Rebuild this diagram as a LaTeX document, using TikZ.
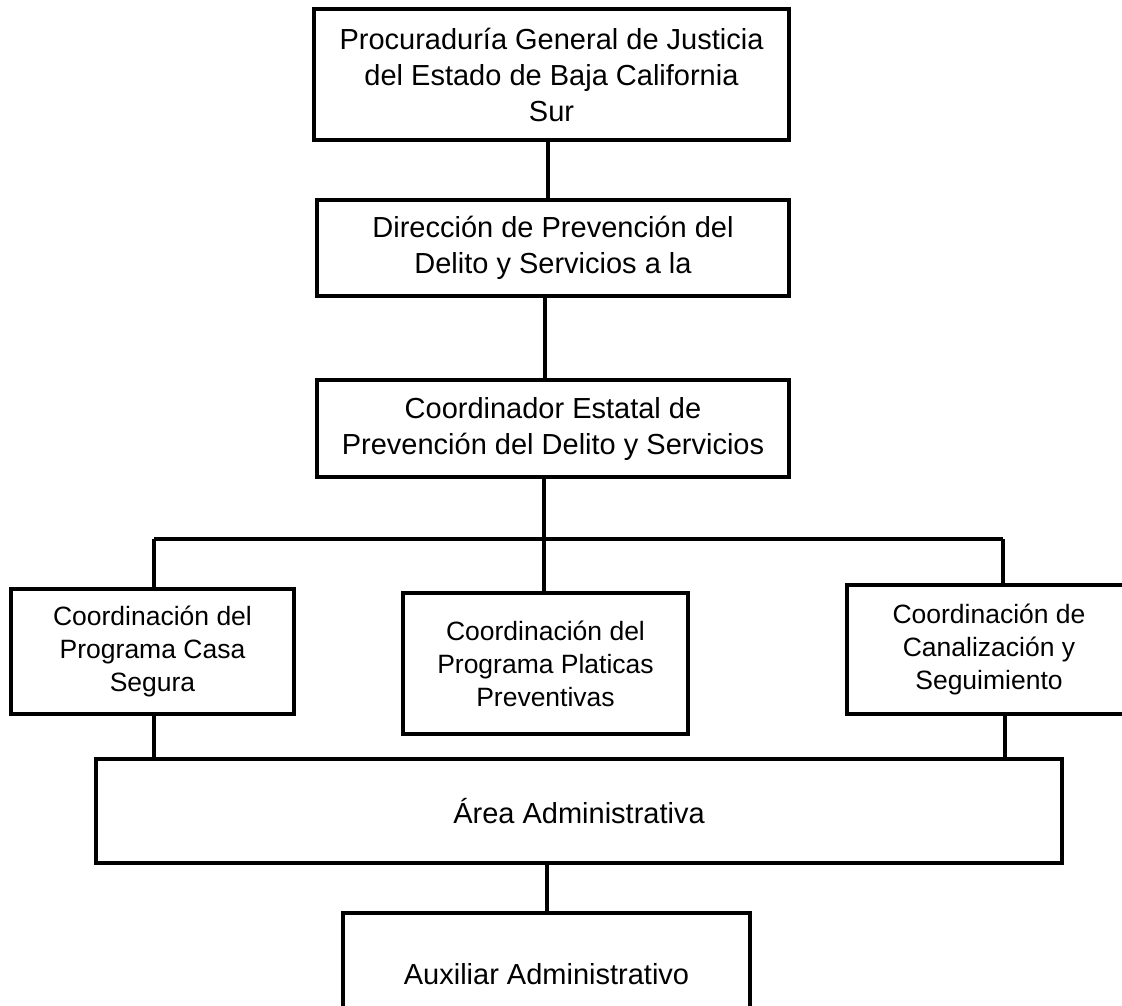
\documentclass[tikz,border=0pt]{standalone}
\usepackage{fontspec}
\setmainfont{Liberation Sans}
\newcommand\bigf{\fontsize{29}{36}\selectfont}
\newcommand\smallf{\fontsize{26.5}{33}\selectfont}
\begin{document}
\begin{tikzpicture}[x=1pt,y=-1pt,
  box/.style={draw, line width=3.5pt, inner sep=0pt, align=center, font=\bigf},
  sbox/.style={box, font=\smallf},
  conn/.style={line width=3.2pt}]
\useasboundingbox (0,0) rectangle (1122,1006);
\clip (0,0) rectangle (1122,1006);
\fill[white] (0,0) rectangle (1122,1006);

\node[box, minimum width=475pt, minimum height=131pt] (b1) at (551.5,74.5)
  {Procuraduría General de Justicia\\del Estado de Baja California\\Sur};
\node[box, minimum width=472pt, minimum height=96pt] (b2) at (553,248)
  {Dirección de Prevención del\\Delito y Servicios a la};
\node[box, minimum width=472pt, minimum height=97pt] (b3) at (553,428.5)
  {Coordinador Estatal de\\Prevención del Delito y Servicios};
\node[sbox, minimum width=283pt, minimum height=125pt] (b4) at (152.5,651.5)
  {Coordinación del\\Programa Casa\\Segura};
\node[sbox, minimum width=285pt, minimum height=141pt] (b5) at (545.5,663.5)
  {Coordinación del\\Programa Platicas\\Preventivas};
\node[sbox, minimum width=284pt, minimum height=129pt] (b6) at (989,649.5)
  {Coordinación de\\Canalización y\\Seguimiento};
\node[box, minimum width=966pt, minimum height=104pt] (area) at (579,811)
  {Área Administrativa};
\node[box, minimum width=407pt, minimum height=122pt] (aux) at (546.5,974)
  {Auxiliar Administrativo};

\coordinate (busL) at (154,539);
\coordinate (busM) at (544,539);
\coordinate (busR) at (1003,539);
\coordinate (dropR) at (1005,700);

\draw[conn] (b1.south -| 548,0) -- (b2.north -| 548,0);
\draw[conn] (b2.south -| 545,0) -- (b3.north -| 545,0);
\draw[conn] (b3.south -| busM) -- (busM);
\draw[conn] (busL) -- (busR);
\draw[conn] (busL) -- (busL |- b4.north);
\draw[conn] (busM) -- (busM |- b5.north);
\draw[conn] (busR) -- (busR |- b6.north);
\draw[conn] (b4.south -| busL) -- (busL |- area.north);
\draw[conn] (b6.south -| dropR) -- (dropR |- area.north);
\draw[conn] (area.south -| 547,0) -- (aux.north -| 547,0);
\end{tikzpicture}
\end{document}
